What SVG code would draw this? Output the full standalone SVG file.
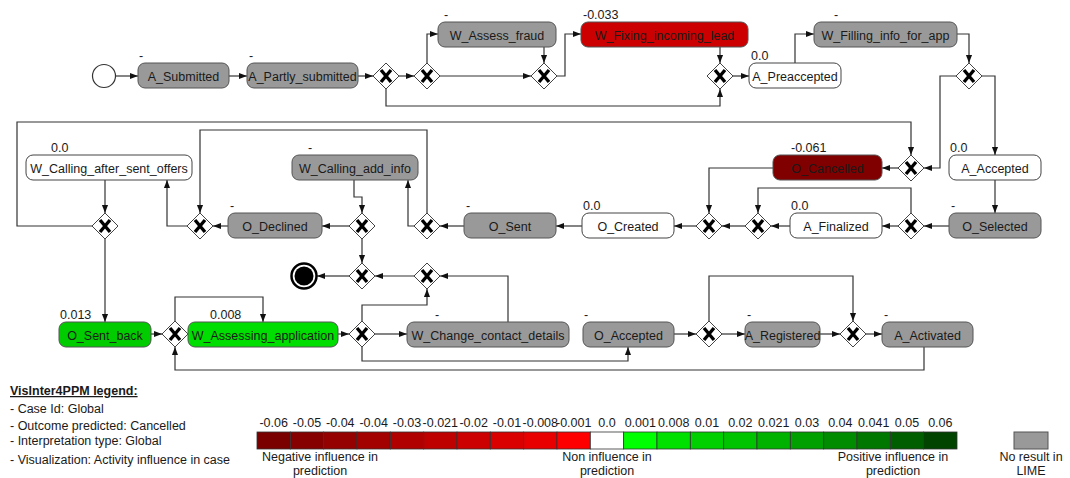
<svg xmlns="http://www.w3.org/2000/svg" xmlns:xlink="http://www.w3.org/1999/xlink" width="1070" height="478" viewBox="0 0 1070 478">
<style>
text{font-family:"Liberation Sans",Arial,sans-serif;font-size:12.5px;fill:#1a1a1a}
.n{stroke:#555;stroke-width:1}
.gray{fill:#999}
.white{fill:#fff;stroke:#444}
.red{fill:#cc0000}
.dred{fill:#800000}
.green{fill:#00cc00}
.green2{fill:#00dd00}
.lbl{text-anchor:middle}
.c path{fill:none;stroke:#333;stroke-width:1.2;marker-end:url(#ah)}
.c path.na{marker-end:none}
.cell{stroke:#333;stroke-width:0.8}
</style>
<defs>
<marker id="ah" viewBox="0 0 10 10" refX="10" refY="5" markerWidth="8" markerHeight="8" orient="auto" markerUnits="userSpaceOnUse">
<path d="M0,1.2 L10,5 L0,8.8 Z" fill="#111"/>
</marker>
<g id="gw">
<path d="M0,-13 L13,0 L0,13 L-13,0 Z" fill="#fff" stroke="#444" stroke-width="1"/>
<path d="M-5,-6 L5,6 M5,-6 L-5,6" stroke="#000" stroke-width="3.4" stroke-linecap="butt"/>
</g>
</defs>

<g id="connectors" class="c">
<path d="M115,76 H138"/>
<path d="M229,76 H247"/>
<path d="M358,76 H373"/>
<path d="M399,76 H414"/>
<path d="M427,63 V34 H438"/>
<path d="M440,76 H531"/>
<path d="M544,47 V63"/>
<path d="M557,76 H565 V34 H581"/>
<path d="M720,47 V63"/>
<path d="M386,89 V106 H720 V89"/>
<path d="M733,76 H749"/>
<path d="M795,63 V34 H814"/>
<path d="M957,34 H969 V63"/>
<path d="M957,76 H940 V168 H924"/>
<path d="M982,76 H995 V155"/>
<path d="M995,180 V213"/>
<path d="M949,226 H924"/>
<path d="M898,226 H882"/>
<path d="M911,213 V188 H758 V213"/>
<path d="M790,226 H771"/>
<path d="M745,226 H722"/>
<path d="M898,168 H882"/>
<path d="M773,168 H709 V213"/>
<path d="M696,226 H674"/>
<path d="M582,226 H556"/>
<path d="M464,226 H440"/>
<path d="M414,226 H408 V180"/>
<path d="M427,213 V130 H200 V213"/>
<path d="M354,180 V197 H362 V213"/>
<path d="M349,226 H322"/>
<path d="M228,226 H213"/>
<path d="M187,226 H167 V180"/>
<path d="M105,180 V213"/>
<path d="M92,226 H17 V122 H911 V155"/>
<path d="M105,239 V322"/>
<path d="M362,239 V263"/>
<path d="M349,276 H317"/>
<path d="M414,276 H375"/>
<path d="M508,322 V276 H440"/>
<path d="M362,321 V305 H427 V289"/>
<path d="M151,334 H162"/>
<path class="na" d="M188,334 H189"/>
<path d="M175,321 V297 H263 V322"/>
<path d="M338,334 H349"/>
<path d="M375,334 H407"/>
<path d="M362,347 V361 H628 V347"/>
<path d="M674,334 H696"/>
<path d="M722,334 H745"/>
<path d="M709,321 V276 H853 V321"/>
<path d="M820,334 H840"/>
<path d="M866,334 H882"/>
<path d="M924,347 V370 H175 V347"/>
</g>

<g id="start"><circle cx="104" cy="76" r="11.5" fill="#fff" stroke="#333" stroke-width="1.2"/></g>
<g id="end"><circle cx="304" cy="276" r="12.5" fill="#fff" stroke="#000" stroke-width="2.5"/><circle cx="304" cy="276" r="9.5" fill="#000"/></g>

<g id="gateways">
<use id="g1" xlink:href="#gw" href="#gw" x="386" y="76"/>
<use id="g2" xlink:href="#gw" href="#gw" x="427" y="76"/>
<use id="g3" xlink:href="#gw" href="#gw" x="544" y="76"/>
<use id="g4" xlink:href="#gw" href="#gw" x="720" y="76"/>
<use id="g5" xlink:href="#gw" href="#gw" x="969" y="76"/>
<use id="g6" xlink:href="#gw" href="#gw" x="911" y="168"/>
<use id="g7" xlink:href="#gw" href="#gw" x="911" y="226"/>
<use id="g8" xlink:href="#gw" href="#gw" x="758" y="226"/>
<use id="g9" xlink:href="#gw" href="#gw" x="709" y="226"/>
<use id="g12" xlink:href="#gw" href="#gw" x="427" y="226"/>
<use id="g13" xlink:href="#gw" href="#gw" x="362" y="226"/>
<use id="g10" xlink:href="#gw" href="#gw" x="200" y="226"/>
<use id="g11" xlink:href="#gw" href="#gw" x="105" y="226"/>
<use id="g14" xlink:href="#gw" href="#gw" x="362" y="276"/>
<use id="g15" xlink:href="#gw" href="#gw" x="427" y="276"/>
<use id="g16" xlink:href="#gw" href="#gw" x="362" y="334"/>
<use id="g19" xlink:href="#gw" href="#gw" x="175" y="334"/>
<use id="g17" xlink:href="#gw" href="#gw" x="709" y="334"/>
<use id="g18" xlink:href="#gw" href="#gw" x="853" y="334"/>
</g>

<g id="A_Submitted"><rect class="n gray" x="138" y="63" width="91" height="25" rx="7"/><text class="lbl" x="183.5" y="80.5">A_Submitted</text><text x="139" y="60">-</text></g>
<g id="A_Partly_submitted"><rect class="n gray" x="247" y="63" width="111" height="25" rx="7"/><text class="lbl" x="302.5" y="80.5">A_Partly_submitted</text><text x="249" y="60">-</text></g>
<g id="W_Assess_fraud"><rect class="n gray" x="438" y="22" width="118" height="25" rx="7"/><text class="lbl" x="497" y="39.5">W_Assess_fraud</text><text x="444" y="18.5">-</text></g>
<g id="W_Fixing_incoming_lead"><rect class="n red" x="581" y="22" width="167" height="25" rx="7"/><text class="lbl" x="664.5" y="39.5">W_Fixing_incoming_lead</text><text x="583" y="18.5">-0.033</text></g>
<g id="A_Preaccepted"><rect class="n white" x="749" y="63" width="92" height="25" rx="7"/><text class="lbl" x="795" y="80.5">A_Preaccepted</text><text x="751" y="60">0.0</text></g>
<g id="W_Filling_info_for_app"><rect class="n gray" x="814" y="22" width="143" height="25" rx="7"/><text class="lbl" x="885.5" y="39.5">W_Filling_info_for_app</text><text x="834" y="18.5">-</text></g>
<g id="A_Accepted"><rect class="n white" x="949" y="155" width="92" height="25" rx="7"/><text class="lbl" x="995" y="172.5">A_Accepted</text><text x="950" y="152">0.0</text></g>
<g id="O_Selected"><rect class="n gray" x="949" y="213" width="92" height="25" rx="7"/><text class="lbl" x="995" y="230.5">O_Selected</text><text x="951" y="210">-</text></g>
<g id="O_Cancelled"><rect class="n dred" x="773" y="155" width="109" height="25" rx="7"/><text class="lbl" x="827.5" y="172.5">O_Cancelled</text><text x="791" y="152">-0.061</text></g>
<g id="A_Finalized"><rect class="n white" x="790" y="213" width="92" height="25" rx="7"/><text class="lbl" x="836" y="230.5">A_Finalized</text><text x="791" y="210">0.0</text></g>
<g id="O_Created"><rect class="n white" x="582" y="213" width="92" height="25" rx="7"/><text class="lbl" x="628" y="230.5">O_Created</text><text x="583" y="210">0.0</text></g>
<g id="O_Sent"><rect class="n gray" x="464" y="213" width="92" height="25" rx="7"/><text class="lbl" x="510" y="230.5">O_Sent</text><text x="466" y="210">-</text></g>
<g id="W_Calling_add_info"><rect class="n gray" x="292" y="155" width="126" height="25" rx="7"/><text class="lbl" x="355" y="172.5">W_Calling_add_info</text><text x="308" y="152">-</text></g>
<g id="O_Declined"><rect class="n gray" x="228" y="213" width="94" height="25" rx="7"/><text class="lbl" x="275" y="230.5">O_Declined</text><text x="230" y="210">-</text></g>
<g id="W_Calling_after_sent_offers"><rect class="n white" x="26" y="155" width="166" height="25" rx="7"/><text class="lbl" x="109" y="172.5">W_Calling_after_sent_offers</text><text x="51" y="152">0.0</text></g>
<g id="O_Sent_back"><rect class="n green" x="59" y="322" width="92" height="25" rx="7"/><text class="lbl" x="105" y="339.5">O_Sent_back</text><text x="60" y="318.5">0.013</text></g>
<g id="W_Assessing_application"><rect class="n green2" x="188" y="322" width="150" height="25" rx="7"/><text class="lbl" x="263" y="339.5">W_Assessing_application</text><text x="210" y="318.5">0.008</text></g>
<g id="W_Change_contact_details"><rect class="n gray" x="407" y="322" width="162" height="25" rx="7"/><text class="lbl" x="488" y="339.5">W_Change_contact_details</text><text x="435" y="318.5">-</text></g>
<g id="O_Accepted"><rect class="n gray" x="583" y="322" width="91" height="25" rx="7"/><text class="lbl" x="628.5" y="339.5">O_Accepted</text><text x="584" y="318.5">-</text></g>
<g id="A_Registered"><rect class="n gray" x="745" y="322" width="75" height="25" rx="7"/><text class="lbl" x="782.5" y="339.5">A_Registered</text><text x="747" y="318.5">-</text></g>
<g id="A_Activated"><rect class="n gray" x="882" y="322" width="91" height="25" rx="7"/><text class="lbl" x="927.5" y="339.5">A_Activated</text><text x="884" y="318.5">-</text></g>

<g id="legend">
<text x="10" y="395" font-weight="bold" text-decoration="underline">VisInter4PPM legend:</text>
<text x="10" y="413">- Case Id: Global</text>
<text x="10" y="430">- Outcome predicted: Cancelled</text>
<text x="10" y="445">- Interpretation type: Global</text>
<text x="10" y="464">- Visualization: Activity influence in case</text>
<g id="colorbar">
<rect class="cell" x="257" y="432" width="33.33" height="17" fill="#7a0000"/>
<rect class="cell" x="290.33" y="432" width="33.33" height="17" fill="#870000"/>
<rect class="cell" x="323.67" y="432" width="33.33" height="17" fill="#950000"/>
<rect class="cell" x="357" y="432" width="33.33" height="17" fill="#a30000"/>
<rect class="cell" x="390.33" y="432" width="33.33" height="17" fill="#b00000"/>
<rect class="cell" x="423.67" y="432" width="33.33" height="17" fill="#be0000"/>
<rect class="cell" x="457" y="432" width="33.33" height="17" fill="#cc0000"/>
<rect class="cell" x="490.33" y="432" width="33.33" height="17" fill="#da0000"/>
<rect class="cell" x="523.67" y="432" width="33.33" height="17" fill="#e80000"/>
<rect class="cell" x="557" y="432" width="33.33" height="17" fill="#ff0000"/>
<rect class="cell" x="590.33" y="432" width="33.33" height="17" fill="#ffffff"/>
<rect class="cell" x="623.67" y="432" width="33.33" height="17" fill="#00ff00"/>
<rect class="cell" x="657" y="432" width="33.33" height="17" fill="#00e000"/>
<rect class="cell" x="690.33" y="432" width="33.33" height="17" fill="#00d000"/>
<rect class="cell" x="723.67" y="432" width="33.33" height="17" fill="#00c400"/>
<rect class="cell" x="757" y="432" width="33.33" height="17" fill="#00b200"/>
<rect class="cell" x="790.33" y="432" width="33.33" height="17" fill="#00a000"/>
<rect class="cell" x="823.67" y="432" width="33.33" height="17" fill="#008c00"/>
<rect class="cell" x="857" y="432" width="33.33" height="17" fill="#007800"/>
<rect class="cell" x="890.33" y="432" width="33.33" height="17" fill="#005e00"/>
<rect class="cell" x="923.67" y="432" width="33.33" height="17" fill="#004400"/>
</g>
<g class="lbl">
<text class="lbl" x="273.7" y="427">-0.06</text>
<text class="lbl" x="307" y="427">-0.05</text>
<text class="lbl" x="340.3" y="427">-0.04</text>
<text class="lbl" x="373.7" y="427">-0.04</text>
<text class="lbl" x="407" y="427">-0.03</text>
<text class="lbl" x="440.3" y="427">-0.021</text>
<text class="lbl" x="473.7" y="427">-0.02</text>
<text class="lbl" x="507" y="427">-0.01</text>
<text class="lbl" x="540.3" y="427">-0.008</text>
<text class="lbl" x="573.7" y="427">-0.001</text>
<text class="lbl" x="607" y="427">0.0</text>
<text class="lbl" x="640.3" y="427">0.001</text>
<text class="lbl" x="673.7" y="427">0.008</text>
<text class="lbl" x="707" y="427">0.01</text>
<text class="lbl" x="740.3" y="427">0.02</text>
<text class="lbl" x="773.7" y="427">0.021</text>
<text class="lbl" x="807" y="427">0.03</text>
<text class="lbl" x="840.3" y="427">0.04</text>
<text class="lbl" x="873.7" y="427">0.041</text>
<text class="lbl" x="907" y="427">0.05</text>
<text class="lbl" x="940.3" y="427">0.06</text>
</g>
<text class="lbl" x="320" y="461">Negative influence in</text>
<text class="lbl" x="320" y="475">prediction</text>
<text class="lbl" x="607" y="461">Non influence in</text>
<text class="lbl" x="607" y="475">prediction</text>
<text class="lbl" x="893" y="461">Positive influence in</text>
<text class="lbl" x="893" y="475">prediction</text>
<rect x="1014" y="432" width="34" height="17" fill="#999" stroke="#555" stroke-width="1"/>
<text class="lbl" x="1031" y="461">No result in</text>
<text class="lbl" x="1031" y="475">LIME</text>
</g>
</svg>
